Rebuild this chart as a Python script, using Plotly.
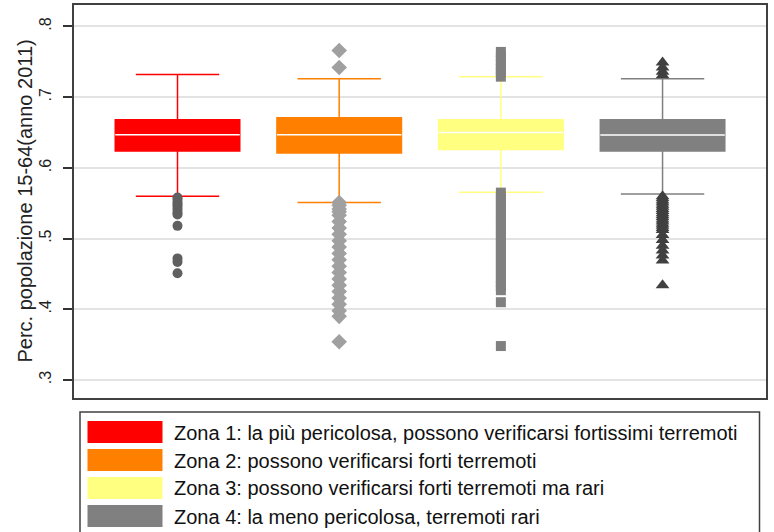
import plotly.graph_objects as go

# Zone labels and colours
zone_labels = [
    "Zona 1: la più pericolosa, possono verificarsi fortissimi terremoti",
    "Zona 2: possono verificarsi forti terremoti",
    "Zona 3: possono verificarsi forti terremoti ma rari",
    "Zona 4: la meno pericolosa, terremoti rari",
]
zone_pos = [1, 2, 3, 4]

# Box statistics (share of population aged 15-64, year 2011)
q1_vals = [0.624, 0.621, 0.626, 0.624]
median_vals = [0.647, 0.647, 0.650, 0.6465]
q3_vals = [0.668, 0.671, 0.668, 0.668]
lower_whisker = [0.560, 0.551, 0.5655, 0.563]
upper_whisker = [0.732, 0.726, 0.729, 0.726]

# Outside values per zone
out_zone1 = [0.558, 0.555, 0.551, 0.548, 0.545, 0.541, 0.537, 0.534,
             0.518, 0.472, 0.467, 0.451]
out_zone2 = [0.766, 0.742,
             0.551, 0.547, 0.542, 0.538, 0.533, 0.524, 0.515, 0.506, 0.497,
             0.488, 0.479, 0.470, 0.461, 0.452, 0.443, 0.434, 0.425, 0.416,
             0.407, 0.398, 0.390, 0.354]
out_zone3 = [0.764, 0.758, 0.752, 0.746, 0.740, 0.735, 0.729,
             0.565, 0.558, 0.551, 0.544, 0.537, 0.530, 0.523, 0.516, 0.509,
             0.502, 0.495, 0.488, 0.481, 0.474, 0.467, 0.460, 0.453, 0.446,
             0.439, 0.433, 0.427, 0.410, 0.348]
out_zone4 = [0.749, 0.742, 0.736, 0.731,
             0.560, 0.557, 0.554, 0.551, 0.548, 0.545, 0.542, 0.539, 0.536,
             0.533, 0.530, 0.527, 0.524, 0.521, 0.518, 0.515, 0.512, 0.505,
             0.498, 0.490, 0.483, 0.476, 0.469, 0.434]
outliers = [out_zone1, out_zone2, out_zone3, out_zone4]

y_tick_vals = [0.3, 0.4, 0.5, 0.6, 0.7, 0.8]
y_tick_text = [".3", ".4", ".5", ".6", ".7", ".8"]
y_title = "Perc. popolazione 15-64(anno 2011)"

# Styling
box_colors = ["#ff0000", "#ff8000", "#ffff80", "#808080"]
out_colors = ["#606060", "#a0a0a0", "#808080", "#404040"]
out_symbols = ["circle", "diamond", "square", "triangle-up"]
out_sizes = [10, 12, 10, 12]
FONT = "Liberation Sans, Arial, sans-serif"

W, H = 774, 532
L, R, T, B = 73, 767, 4, 399
BOX_W = 0.77


def px_x(p):
    return (p - L) / (R - L)


def px_y(p):
    return (B - p) / (B - T)


fig = go.Figure()

for i in range(4):
    fig.add_trace(go.Box(
        x=[zone_pos[i]],
        q1=[q1_vals[i]], median=[median_vals[i]], q3=[q3_vals[i]],
        lowerfence=[lower_whisker[i]], upperfence=[upper_whisker[i]],
        fillcolor=box_colors[i],
        line=dict(color=box_colors[i], width=1.5),
        width=BOX_W, whiskerwidth=0.67,
        boxpoints=False, showlegend=False, hoverinfo="skip",
    ))
    # white median line across the box
    fig.add_trace(go.Scatter(
        x=[zone_pos[i] - BOX_W / 2, zone_pos[i] + BOX_W / 2],
        y=[median_vals[i], median_vals[i]],
        mode="lines", line=dict(color="white", width=1.5),
        showlegend=False, hoverinfo="skip",
    ))
    fig.add_trace(go.Scatter(
        x=[zone_pos[i]] * len(outliers[i]), y=outliers[i],
        mode="markers",
        marker=dict(symbol=out_symbols[i], size=out_sizes[i],
                    color=out_colors[i], line=dict(width=0)),
        showlegend=False, hoverinfo="skip",
    ))

shapes = [
    # plot frame
    dict(type="rect", xref="paper", yref="paper", x0=0, x1=1, y0=0, y1=1,
         line=dict(color="#404040", width=2), fillcolor="rgba(0,0,0,0)"),
    # legend frame
    dict(type="rect", xref="paper", yref="paper",
         x0=px_x(80), x1=px_x(759.5), y0=px_y(412), y1=px_y(545),
         line=dict(color="#404040", width=1.5), fillcolor="white"),
]
annotations = [
    dict(text=y_title, xref="paper", yref="paper", x=px_x(24), y=0.5,
         textangle=-90, showarrow=False, xanchor="center", yanchor="middle",
         font=dict(family=FONT, size=20, color="#222222")),
]
for i, label in enumerate(zone_labels):
    top = 421 + 28 * i
    shapes.append(dict(
        type="rect", xref="paper", yref="paper",
        x0=px_x(87.5), x1=px_x(162.5), y0=px_y(top), y1=px_y(top + 22),
        line=dict(width=0), fillcolor=box_colors[i]))
    annotations.append(dict(
        text=label, xref="paper", yref="paper",
        x=px_x(172), y=px_y(top + 11.5), xanchor="left", yanchor="middle",
        showarrow=False, font=dict(family=FONT, size=20, color="#111111")))

fig.update_layout(
    width=W, height=H,
    margin=dict(l=L, r=W - R, t=T, b=H - B, pad=0),
    paper_bgcolor="white", plot_bgcolor="white",
    boxmode="overlay",
    showlegend=False,
    shapes=shapes, annotations=annotations,
    xaxis=dict(range=[0.3536, 4.646], showticklabels=False, showgrid=False,
               zeroline=False, ticks="", showline=False, fixedrange=True),
    yaxis=dict(range=[0.2731, 0.8318], tickvals=y_tick_vals,
               ticktext=y_tick_text, tickangle=-90, ticks="outside",
               ticklen=9, tickwidth=1.5, tickcolor="#333333",
               showgrid=True, gridcolor="#e3e3e3", gridwidth=1.5,
               zeroline=False, showline=False,
               tickfont=dict(family=FONT, size=16, color="#222222"),
               ticklabelstandoff=6),
)

fig.write_html("out.html")
